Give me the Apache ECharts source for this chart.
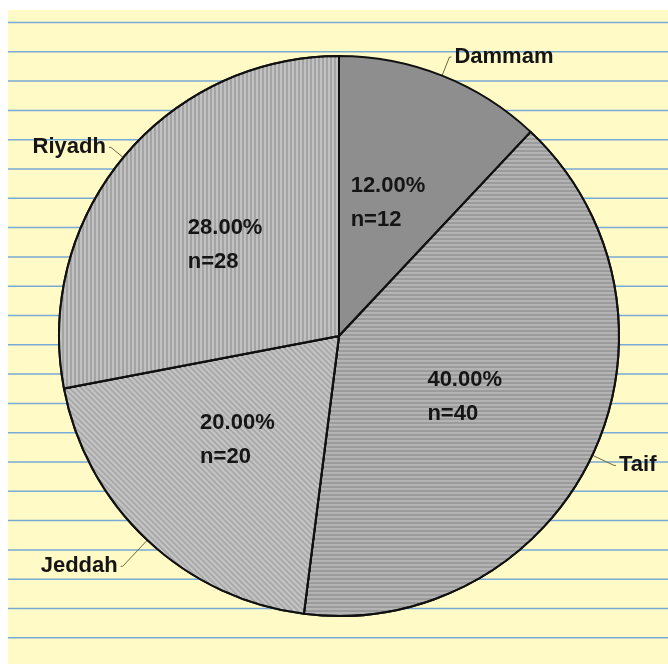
<!DOCTYPE html>
<html><head><meta charset="utf-8">
<script src="https://cdn.jsdelivr.net/npm/echarts@6/dist/echarts.min.js"></script>
<style>html,body{margin:0;padding:0;background:#fff}#c{width:668px;height:664px}</style>
</head><body><div id="c"></div>
<script>
const categories = ['Dammam', 'Taif', 'Jeddah', 'Riyadh'];
const counts = [12, 40, 20, 28];
const percents = [12.00, 40.00, 20.00, 28.00];

const fills = ['#8e8e8e', '#9b9b9b', '#a9a9a9', '#a4a4a4'];
const leaderLengths = [20, 24, 36, 16];
const decals = [
  null,
  {symbol:'rect', symbolSize:1, dashArrayX:[2,2], dashArrayY:[4,0], rotation:Math.PI/2, color:'rgba(255,255,255,0.25)'},
  {symbol:'rect', symbolSize:1, dashArrayX:[2,2], dashArrayY:[4,0], rotation:-Math.PI/4, color:'rgba(255,255,255,0.32)'},
  {symbol:'rect', symbolSize:1, dashArrayX:[2,2], dashArrayY:[4,0], rotation:0, color:'rgba(255,255,255,0.32)'}
];

const chart = echarts.init(document.getElementById('c'), null, {renderer:'canvas'});

const graphics = [{type:'rect', shape:{x:8, y:10, width:660, height:654}, style:{fill:'#fffac6'}, z:-10}];
for (let k = 0; k < 22; k++) {
  const y = 22.5 + k * 29.3;
  graphics.push({type:'line', shape:{x1:8, y1:y, x2:668, y2:y}, style:{stroke:'#79a9d6', lineWidth:1.5}, z:-9});
}

const innerData = categories.map((c, i) => ({
  name: c, value: counts[i],
  itemStyle: {color: fills[i], decal: decals[i] || undefined}
}));
const outerData = categories.map((c, i) => ({
  name: c, value: counts[i],
  labelLine: {length: leaderLengths[i]}
}));

chart.setOption({
  animation: false,
  graphic: graphics,
  series: [
    {
      type: 'pie', center: [339, 336], radius: 280, startAngle: 90, clockwise: true,
      silent: true,
      data: innerData,
      itemStyle: {borderColor: '#111', borderWidth: 2},
      label: {
        position: 'inside',
        formatter: p => '{a|' + percents[p.dataIndex].toFixed(2) + '%}\n{a|n=' + counts[p.dataIndex] + '}',
        rich: {a: {fontFamily:'Liberation Sans, Arial', fontWeight:'bold', fontSize:22, color:'#151515', width:82, align:'left', lineHeight:34}}
      },
      labelLine: {show:false}
    },
    {
      type: 'pie', center: [339, 336], radius: 280, startAngle: 90, clockwise: true,
      silent: true,
      data: outerData,
      itemStyle: {color: 'rgba(0,0,0,0)', borderWidth: 0},
      label: {
        position: 'outside',
        formatter: '{b}',
        overflow: 'none',
        fontFamily: 'Liberation Sans, Arial', fontWeight: 'bold', fontSize: 22, color: '#151515',
        distanceToLabelLine: 3
      },
      labelLine: {show: true, length: 24, length2: 2, smooth: false, lineStyle: {color: '#6b6b40', width: 1}}
    }
  ]
});
</script></body></html>
